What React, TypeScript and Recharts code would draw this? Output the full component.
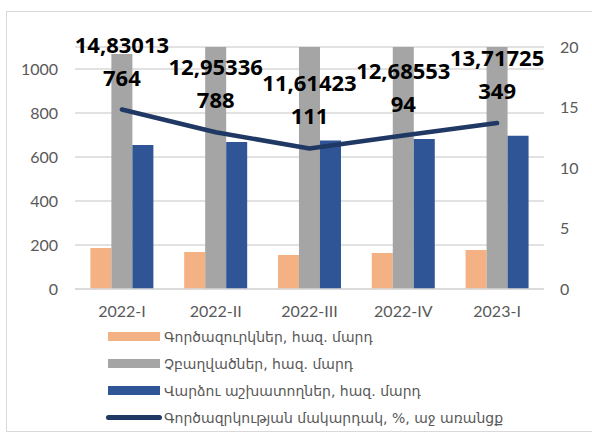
import React from 'react';
import { ComposedChart, Bar, Line, XAxis, YAxis, CartesianGrid, LabelList } from 'recharts';

const quarters = ['2022-I', '2022-II', '2022-III', '2022-IV', '2023-I'];
const unemployed = [186, 168, 155, 164, 177];
const inactive = [1068, 1120, 1120, 1120, 1120];
const employees = [655, 668, 675, 682, 697];
const unemploymentRate = [14.83013764, 12.95336788, 11.61423111, 12.6855394, 13.71725349];

const leftTicks = [0, 200, 400, 600, 800, 1000];
const rightTicks = [0, 5, 10, 15, 20];

const seriesNames = [
  'Գործազուրկներ, հազ. մարդ',
  'Չբաղվածներ, հազ. մարդ',
  'Վարձու աշխատողներ, հազ. մարդ',
  'Գործազրկության մակարդակ, %, աջ առանցք',
];
const colors = ['#F4B183', '#A5A5A5', '#2F5597', '#203864'];

const data = quarters.map((q, i) => ({
  q,
  unemployed: unemployed[i],
  inactive: inactive[i],
  employees: employees[i],
  rate: unemploymentRate[i],
}));

const tickFont = { fontSize: 16, fill: '#595959', fontFamily: "Lato, 'Open Sans', sans-serif" };

// Excel-style label: the long number wraps after 8 characters
function RateLabel(props: any) {
  const { x, y, value } = props;
  const s = String(value).replace('.', ',');
  const a = s.slice(0, 8);
  const b = s.slice(8);
  return (
    <g>
      <text x={x} y={y - 66} textAnchor="middle" dominantBaseline="central" fontSize={22} fontWeight="bold"
        fontFamily="'Open Sans', 'Liberation Sans', sans-serif" fill="#000">{a}</text>
      <text x={x} y={y - 33} textAnchor="middle" dominantBaseline="central" fontSize={22} fontWeight="bold"
        fontFamily="'Open Sans', 'Liberation Sans', sans-serif" fill="#000">{b}</text>
    </g>
  );
}

export default function App() {
  return (
    <div style={{ position: 'absolute', left: 0, top: 0, width: 592, height: 432, overflow: 'hidden', background: '#fff' }}>
      <div style={{ position: 'absolute', left: 6, top: 11, width: 620, height: 419, border: '1.5px solid #d9d9d9' }} />
      <div style={{ position: 'absolute', left: 0, top: 0 }}>
        <ComposedChart width={592} height={432} data={data} margin={{ top: 47, right: 0, bottom: 113, left: 0 }}
          barCategoryGap="16.4%" barGap={0}>
          <CartesianGrid yAxisId="left" vertical={false} stroke="#d9d9d9" strokeWidth={1.5} />
          <XAxis dataKey="q" axisLine={{ stroke: '#d9d9d9', strokeWidth: 1.5 }} tickLine={false} tickSize={0}
            tickMargin={17} height={30} tick={tickFont} interval={0} />
          <YAxis yAxisId="left" width={75} domain={[0, 1100]} ticks={leftTicks} allowDataOverflow
            axisLine={false} tickLine={false} tickSize={0} tickMargin={17} tick={tickFont} />
          <YAxis yAxisId="right" orientation="right" width={48} domain={[0, 20]} ticks={rightTicks}
            axisLine={false} tickLine={false} tickSize={0} tickMargin={16} tick={tickFont} />
          <Bar yAxisId="left" dataKey="unemployed" fill={colors[0]} isAnimationActive={false} />
          <Bar yAxisId="left" dataKey="inactive" fill={colors[1]} isAnimationActive={false} />
          <Bar yAxisId="left" dataKey="employees" fill={colors[2]} isAnimationActive={false} />
          <Line yAxisId="right" dataKey="rate" stroke={colors[3]} strokeWidth={4.5} dot={false}
            strokeLinecap="round" strokeLinejoin="round" isAnimationActive={false}>
            <LabelList dataKey="rate" content={RateLabel} />
          </Line>
        </ComposedChart>
      </div>
      <div style={{ position: 'absolute', left: 106, top: 323 }}>
        {seriesNames.map((name, i) => (
          <div key={name} style={{ display: 'flex', alignItems: 'center', height: 27 }}>
            {i < 3 ? (
              <div style={{ width: 52, height: 9, marginLeft: 2, background: colors[i] }} />
            ) : (
              <div style={{ width: 56, height: 5, borderRadius: 3, background: colors[i] }} />
            )}
            <span style={{ marginLeft: i < 3 ? 4 : 2, fontSize: 14, color: '#595959', fontFamily: "'DejaVu Sans', sans-serif", whiteSpace: 'nowrap' }}>
              {name}
            </span>
          </div>
        ))}
      </div>
    </div>
  );
}
